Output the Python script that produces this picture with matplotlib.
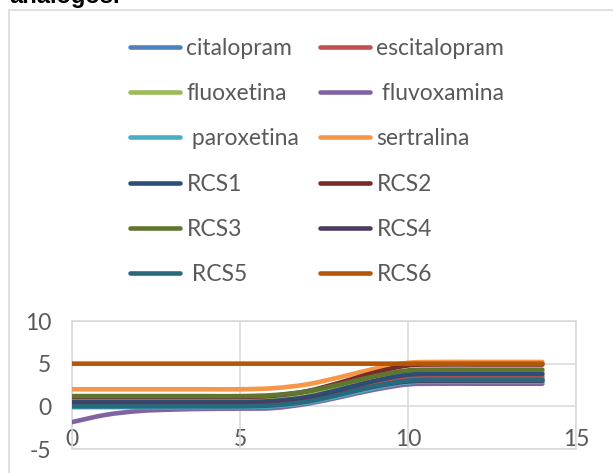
import matplotlib
matplotlib.use("Agg")
import matplotlib.pyplot as plt
from matplotlib.path import Path
from matplotlib.patches import PathPatch, Rectangle
from matplotlib.lines import Line2D

plt.rcParams["axes.unicode_minus"] = False

# ---------------- data ----------------
x_values = [0, 1, 2, 3, 4, 5, 6, 7, 8, 9, 10, 11, 12, 13, 14]

citalopram   = [0.3, 0.3, 0.3, 0.3, 0.3, 0.3, 0.42, 0.84, 1.65, 2.55, 3.21, 3.3, 3.3, 3.3, 3.3]
escitalopram = [0.2, 0.2, 0.2, 0.2, 0.2, 0.2, 0.33, 0.80, 1.71, 2.71, 3.45, 3.55, 3.55, 3.55, 3.55]
fluoxetina   = [0.8, 0.8, 0.8, 0.8, 0.8, 0.8, 0.93, 1.38, 2.24, 3.2, 3.9, 4.0, 4.0, 4.0, 4.0]
fluvoxamina  = [-1.85, -1.0, -0.55, -0.38, -0.3, -0.27, -0.2, 0.3, 1.1, 1.95, 2.57, 2.65, 2.65, 2.65, 2.65]
paroxetina   = [-0.1, -0.1, -0.1, -0.1, -0.1, -0.1, 0.02, 0.44, 1.25, 2.15, 2.81, 2.9, 2.9, 2.9, 2.9]
sertralina   = [2.0, 2.0, 2.0, 2.0, 2.0, 2.0, 2.13, 2.58, 3.44, 4.4, 5.1, 5.2, 5.2, 5.2, 5.2]
RCS1 = [0.5, 0.5, 0.5, 0.5, 0.5, 0.5, 0.63, 1.09, 1.99, 2.98, 3.7, 3.8, 3.8, 3.8, 3.8]
RCS2 = [1.1, 1.1, 1.1, 1.1, 1.1, 1.1, 1.25, 1.78, 2.81, 3.95, 4.79, 4.9, 4.9, 4.9, 4.9]
RCS3 = [1.2, 1.2, 1.2, 1.2, 1.2, 1.2, 1.32, 1.76, 2.6, 3.53, 4.21, 4.3, 4.3, 4.3, 4.3]
RCS4 = [0.3, 0.3, 0.3, 0.3, 0.3, 0.3, 0.41, 0.79, 1.52, 2.33, 2.92, 3.0, 3.0, 3.0, 3.0]
RCS5 = [0.0, 0.0, 0.0, 0.0, 0.0, 0.0, 0.12, 0.56, 1.4, 2.33, 3.01, 3.1, 3.1, 3.1, 3.1]
RCS6 = [5.0, 5.0, 5.0, 5.0, 5.0, 5.0, 5.0, 5.0, 5.0, 5.0, 5.0, 5.0, 5.0, 5.0, 5.0]

series_labels = ["citalopram", "escitalopram", "fluoxetina", " fluvoxamina",
                 " paroxetina", "sertralina", "RCS1", "RCS2", "RCS3", "RCS4",
                 " RCS5", "RCS6"]
series_values = [citalopram, escitalopram, fluoxetina, fluvoxamina, paroxetina,
                 sertralina, RCS1, RCS2, RCS3, RCS4, RCS5, RCS6]
series_colors = ["#4F81BD", "#C0504D", "#9BBB59", "#8064A2", "#4BACC6", "#F79646",
                 "#2C4D75", "#772C2A", "#5F7530", "#4D3B62", "#276A7C", "#B65708"]

x_ticks = [0, 5, 10, 15]
y_ticks = [-5, 0, 5, 10]
title_text = "analogos."

# ---------------- style ----------------
FONT = ["Lato", "DejaVu Sans"]
TXT = "#595959"
GRID = "#D9D9D9"
FS = 16.5
LW = 3.3

W, H = 613, 473
fig = plt.figure(figsize=(W / 100, H / 100), dpi=100)

ax = fig.add_axes([72 / W, (H - 449) / H, (576 - 72) / W, (449 - 321) / H])
ax.set_xlim(x_ticks[0], x_ticks[-1])
ax.set_ylim(y_ticks[0], y_ticks[-1])


def smooth_path(xs, ys):
    """Excel-like smoothed line as cubic Bezier segments."""
    pts = list(zip(xs, ys))
    n = len(pts)
    verts = [pts[0]]
    codes = [Path.MOVETO]
    for i in range(n - 1):
        p0 = pts[i - 1] if i > 0 else pts[i]
        p1 = pts[i]
        p2 = pts[i + 1]
        p3 = pts[i + 2] if i + 2 < n else pts[i + 1]
        c1 = (p1[0] + (p2[0] - p0[0]) / 6, p1[1] + (p2[1] - p0[1]) / 6)
        c2 = (p2[0] - (p3[0] - p1[0]) / 6, p2[1] - (p3[1] - p1[1]) / 6)
        verts += [c1, c2, p2]
        codes += [Path.CURVE4, Path.CURVE4, Path.CURVE4]
    return Path(verts, codes)


for vals, col in zip(series_values, series_colors):
    patch = PathPatch(smooth_path(x_values, vals), facecolor="none", edgecolor=col,
                      linewidth=LW, capstyle="round", joinstyle="round", zorder=3)
    ax.add_patch(patch)

ax.set_xticks(x_ticks)
ax.set_yticks(y_ticks)
ax.grid(True, color=GRID, linewidth=1.1, zorder=0)
ax.set_axisbelow(True)
for s in ax.spines.values():
    s.set_color(GRID)
    s.set_linewidth(1.1)
ax.tick_params(axis="both", length=0)
ax.tick_params(axis="x", labelbottom=False)
ax.tick_params(axis="y", pad=15, labelsize=FS, labelcolor=TXT)
for lab in ax.get_yticklabels():
    lab.set_family(FONT)

# x axis labels drawn where the horizontal axis crosses y = 0
loc0 = (0 - y_ticks[0]) / (y_ticks[-1] - y_ticks[0])
sec = ax.secondary_xaxis(loc0)
sec.set_xticks(x_ticks)
sec.spines["bottom"].set_visible(False)
sec.tick_params(axis="x", length=0, pad=16, labelsize=FS, labelcolor=TXT)
for lab in sec.get_xticklabels():
    lab.set_family(FONT)

# legend: two columns
handles = [Line2D([], [], color=c, linewidth=LW, solid_capstyle="round") for c in series_colors]
col1 = [0, 2, 4, 6, 8, 10]
col2 = [1, 3, 5, 7, 9, 11]
fs_px = FS * 100 / 72
leg_kw = dict(loc="center left", frameon=False, borderpad=0, borderaxespad=0,
              handlelength=(54 - 4) / fs_px, handletextpad=0.28, labelspacing=1.06,
              prop={"family": FONT, "size": FS}, labelcolor=TXT)
leg1 = fig.legend([handles[i] for i in col1], [series_labels[i] for i in col1],
                  bbox_to_anchor=(130 / W, 1 - 161.5 / H), **leg_kw)
leg2 = fig.legend([handles[i] for i in col2], [series_labels[i] for i in col2],
                  bbox_to_anchor=(320 / W, 1 - 161.5 / H), **leg_kw)

# chart border (extends beyond the picture on the right and bottom)
fig.add_artist(Rectangle((8.5 / W, -0.5), 2.0, 1.5 - 10.5 / H, transform=fig.transFigure,
                         fill=False, edgecolor=GRID, linewidth=1.2, clip_on=False))

# cropped title at the top (only its lower part is inside the picture)
fig.text(9 / W, 1 - 3 / H, title_text, family=["Liberation Sans", "DejaVu Sans"],
         fontweight="bold", fontsize=17, color="#000000", va="baseline", ha="left")

fig.savefig("out.png", dpi=100)
